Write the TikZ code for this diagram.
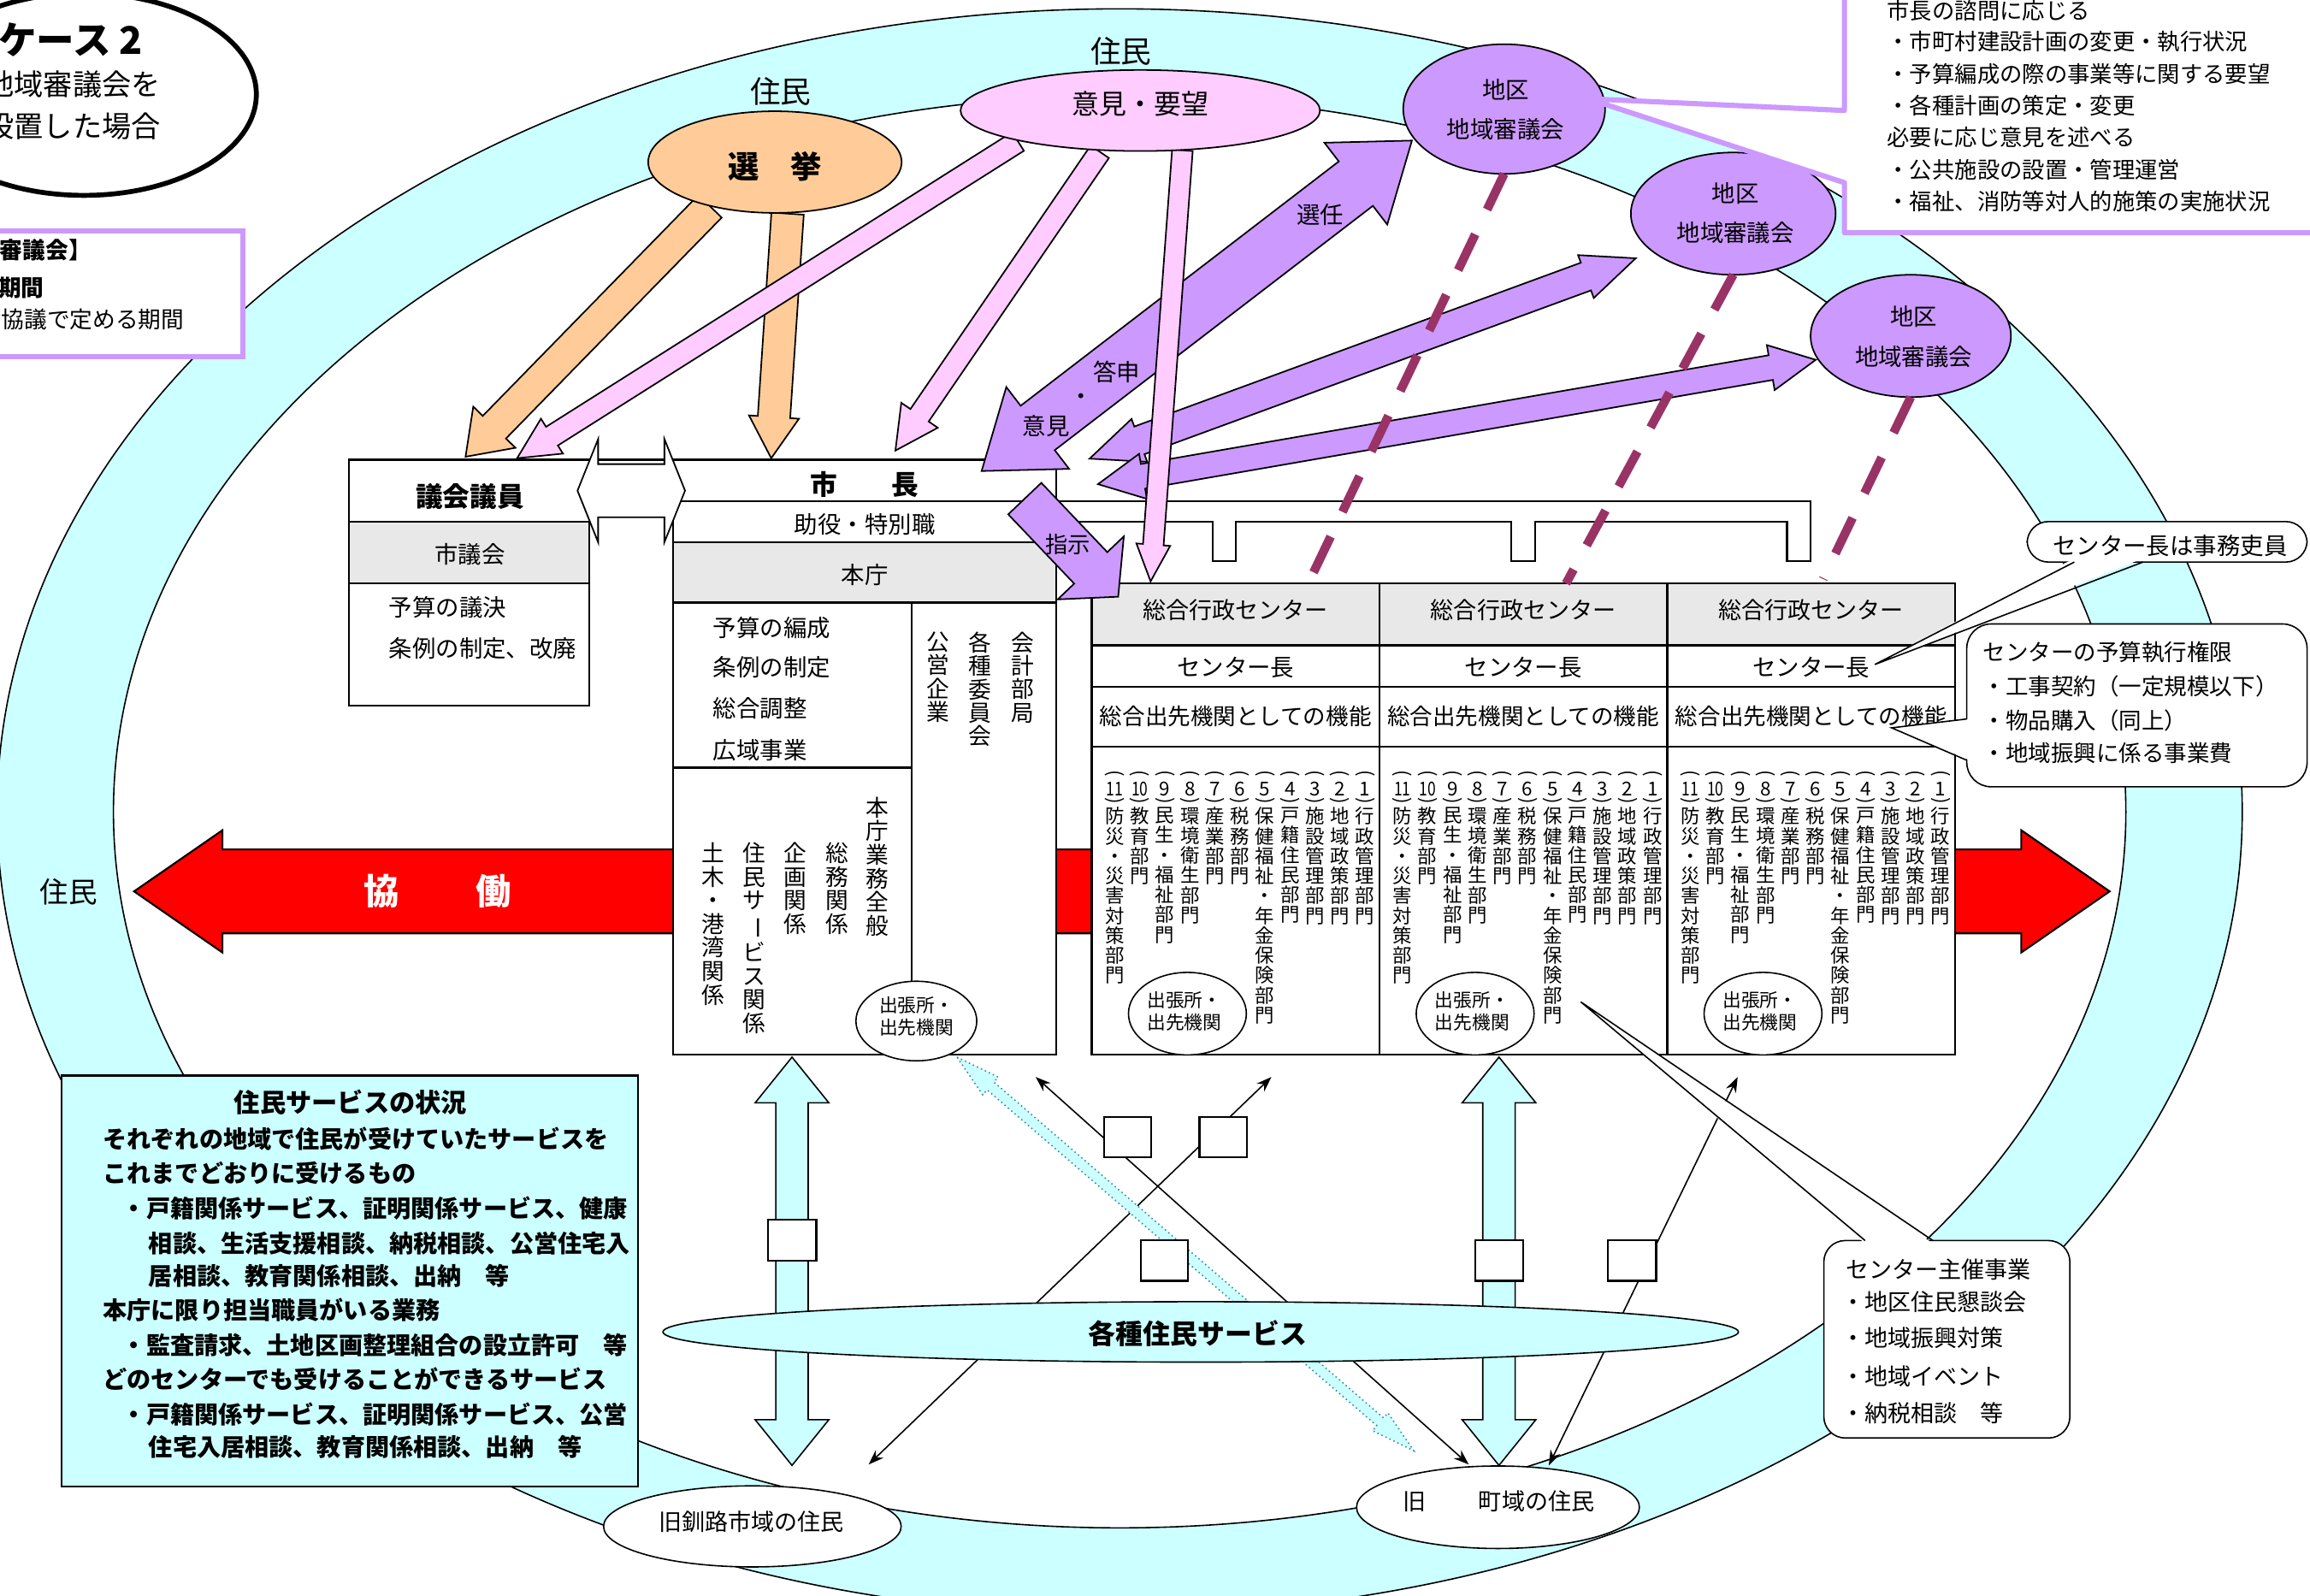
\documentclass[tikz,border=0pt]{standalone}
\usepackage{fontspec}
\setmainfont{Noto Sans CJK JP}
\usepackage{graphicx}
\usetikzlibrary{calc,shapes.geometric,arrows.meta}
\definecolor{ringc}{HTML}{CCFFFF}
\definecolor{orangef}{HTML}{FFCC99}
\definecolor{pinkf}{HTML}{FFCCFF}
\definecolor{purplef}{HTML}{CC99FF}
\definecolor{dashm}{HTML}{993366}
\definecolor{grayf}{HTML}{E8E8E8}
\definecolor{dotc}{HTML}{3F8C9A}
\newcommand\upt{0.48369pt}
\newcommand\fsz[2]{\fontsize{#1pt}{#2pt}\selectfont}
\newcommand\vbar{\rotatebox[origin=c]{-90}{ー}}
\newcommand\parA{\rotatebox[origin=c]{-90}{(}}
\newcommand\parB{\rotatebox[origin=c]{-90}{)}}
\newcommand\blkarrow[6]{%
  \coordinate (tHa) at ($(#3)!#6*\upt!(#2)$);
  \draw[#1] ($(#2)!#4*\upt!90:(#3)$) -- ($(tHa)!#4*\upt!90:(#3)$) -- ($(tHa)!#5*\upt!90:(#3)$) -- (#3) -- ($(tHa)!#5*\upt!-90:(#3)$) -- ($(tHa)!#4*\upt!-90:(#3)$) -- ($(#2)!#4*\upt!-90:(#3)$) -- cycle;}
\newcommand\blkdarrow[6]{%
  \coordinate (tHa) at ($(#3)!#6*\upt!(#2)$);
  \coordinate (tHb) at ($(#2)!#6*\upt!(#3)$);
  \draw[#1] (#2) -- ($(tHb)!#5*\upt!90:(#3)$) -- ($(tHb)!#4*\upt!90:(#3)$) -- ($(tHa)!#4*\upt!90:(#3)$) -- ($(tHa)!#5*\upt!90:(#3)$) -- (#3) -- ($(tHa)!#5*\upt!-90:(#3)$) -- ($(tHa)!#4*\upt!-90:(#3)$) -- ($(tHb)!#4*\upt!-90:(#3)$) -- ($(tHb)!#5*\upt!-90:(#3)$) -- cycle;}
\begin{document}
\begin{tikzpicture}[x=0.017cm,y=-0.017cm,
  every node/.style={inner sep=0pt,outer sep=0pt},
  thinl/.style={line width=0.45pt},
  boxl/.style={draw,line width=0.6pt},
  blk/.style={draw,line width=0.5pt,line join=miter},
  vt/.style={anchor=north,align=center},
  oval/.style={draw,line width=0.5pt,ellipse},
  dashl/.style={draw=dashm,line width=2.9pt,dash pattern=on 13pt off 9pt},
  arrtwo/.style={line width=0.45pt,{Stealth[length=5pt,width=3.6pt]}-{Stealth[length=5pt,width=3.6pt]}}]

\useasboundingbox (0,0) rectangle (1568,1083);
\fill[white] (0,0) rectangle (1568,1083);

% ---- ring of residents
\fill[ringc,even odd rule] (760,551) ellipse [x radius=762,y radius=545] (760,551) ellipse [x radius=683,y radius=486];
\draw[thinl] (760,551) ellipse [x radius=762,y radius=545];
\draw[thinl] (760,551) ellipse [x radius=683,y radius=486];
\node[font=\fsz{10}{12}] (jumin1) at (530,62) {住民};
\node[font=\fsz{10}{12}] (jumin2) at (761,34.5) {住民};
\node[font=\fsz{9.4}{11}] (jumin3) at (46.6,605.6) {住民};

% ---- cooperation arrow
\coordinate (kyoL) at (91,605);
\coordinate (kyoR) at (1432,605);
\blkdarrow{blk,line width=0.6pt,fill=red}{kyoL}{kyoR}{28.5}{41.5}{60}
\node[font=\fsz{11.6}{13}\bfseries,text=white] (kyo1) at (259,605) {協};
\node[font=\fsz{11.6}{13}\bfseries,text=white] (kyo2) at (335,605) {働};

% ---- council box
\draw[boxl,fill=white] (237,312) rectangle (400,479);
\draw[boxl,fill=grayf] (237,354) rectangle (400,396);
\draw[boxl] (400,312) -- (457,312);
\node[font=\fsz{8.9}{10}\bfseries] (giin) at (319,337) {議会議員};
\node[font=\fsz{7.7}{9}] (shigikai) at (319,376) {市議会};
\node[font=\fsz{7.7}{9},anchor=west] (g1) at (264,412) {予算の議決};
\node[font=\fsz{7.7}{9},anchor=west] (g2) at (264,440) {条例の制定、改廃};

% ---- mayor / head office box
\draw[boxl,fill=white] (457,312) rectangle (717,716);
\draw[boxl] (457,340) -- (717,340);
\draw[boxl,fill=grayf] (457,368) rectangle (717,409);
\draw[boxl] (619,409) -- (619,716);
\draw[boxl] (457,521) -- (619,521);
\node[font=\fsz{8.9}{10}\bfseries] (shicho) at (587,328.6) {市　　長};
\node[font=\fsz{7.7}{9}] (joyaku) at (587,356) {助役・特別職};
\node[font=\fsz{7.7}{9}] (honcho) at (587,390) {本庁};
\node[font=\fsz{7.7}{9},anchor=west] (h1) at (484,426) {予算の編成};
\node[font=\fsz{7.7}{9},anchor=west] (h2) at (484,453) {条例の制定};
\node[font=\fsz{7.7}{9},anchor=west] (h3) at (484,481) {総合調整};
\node[font=\fsz{7.7}{9},anchor=west] (h4) at (484,509) {広域事業};
\node[vt,font=\fsz{7.5}{7.64}] (kaikei) at (694,429) {会\\計\\部\\局};
\node[vt,font=\fsz{7.5}{7.64}] (iinkai) at (665,429) {各\\種\\委\\員\\会};
\node[vt,font=\fsz{7.5}{7.64}] (koei) at (637,429) {公\\営\\企\\業};
\node[vt,font=\fsz{7.5}{7.74}] (zenpan) at (595.6,541) {本\\庁\\業\\務\\全\\般};
\node[vt,font=\fsz{7.5}{7.74}] (somu) at (568,572) {総\\務\\関\\係};
\node[vt,font=\fsz{7.5}{7.74}] (kikaku) at (540,572) {企\\画\\関\\係};
\node[vt,font=\fsz{7.5}{7.74}] (jserv) at (512,572) {住\\民\\サ\\\vbar\\ビ\\ス\\関\\係};
\node[vt,font=\fsz{7.5}{7.74}] (doboku) at (484,572) {土\\木\\・\\港\\湾\\関\\係};
\node[oval,fill=white,line width=0.45pt,minimum width=82*\upt,minimum height=54*\upt] (hdem) at (622,693) {};
\node[font=\fsz{6.1}{7.3},align=left] (hdemt) at (622,690) {出張所・\\出先機関};

% ---- bar to centres
\draw[boxl,fill=white] (717,340) -- (1229,340) -- (1229,381) -- (1213,381) -- (1213,354) -- (1042,354) -- (1042,381) -- (1026,381) -- (1026,354) -- (839,354) -- (839,381) -- (823,381) -- (823,354) -- (717,354);

% ---- administrative centres
\draw[boxl,fill=white] (741,396) rectangle (1327,716);
\draw[boxl,fill=grayf] (741,396) rectangle (1327,438);
\draw[boxl] (741,466) -- (1327,466);
\draw[boxl] (741,507) -- (1327,507);
\draw[boxl] (936.3,396) -- (936.3,716);
\draw[boxl] (1131.7,396) -- (1131.7,716);
\foreach \L [count=\c] in {741,936.3,1131.7} {
  \node[font=\fsz{7.6}{9}] (ct\c) at ({\L+97.7},414) {総合行政センター};
  \node[font=\fsz{7.7}{9}] (cc\c) at ({\L+97.7},453) {センター長};
  \node[font=\fsz{7.45}{9}] (cf\c) at ({\L+97.7},486) {総合出先機関としての機能};
  \node[oval,fill=white,line width=0.45pt,minimum width=80*\upt,minimum height=56*\upt] (ce\c) at ({\L+65},688) {};
  \node[font=\fsz{6.1}{7.3},align=left] (cet\c) at ({\L+63},686.5) {出張所・\\出先機関};
  \foreach \k/\t in {1/{行\\政\\管\\理\\部\\門},2/{地\\域\\政\\策\\部\\門},3/{施\\設\\管\\理\\部\\門},4/{戸\\籍\\住\\民\\部\\門},5/{保\\健\\福\\祉\\・\\年\\金\\保\\険\\部\\門},6/{税\\務\\部\\門},7/{産\\業\\部\\門},8/{環\\境\\衛\\生\\部\\門},9/{民\\生\\・\\福\\祉\\部\\門},10/{教\\育\\部\\門},11/{防\\災\\・\\災\\害\\対\\策\\部\\門}} {
    \node[font=\fsz{6.3}{7}] (pa\c-\k) at ({\L+185.5-(\k-1)*16.98},526) {\parA};
    \node[font=\fsz{6.3}{7}] (nm\c-\k) at ({\L+185.5-(\k-1)*16.98},535.5) {\ifnum\k>9 \scalebox{0.78}[1]{\k}\else\k\fi};
    \node[font=\fsz{6.3}{7}] (pb\c-\k) at ({\L+185.5-(\k-1)*16.98},544.5) {\parB};
    \node[vt,font=\fsz{6.3}{6.53}] (cd\c-\k) at ({\L+185.5-(\k-1)*16.98},548) {\t};
  }
}

% ---- white double arrow council <-> mayor
\coordinate (waL) at (392,333);
\coordinate (waR) at (465,333);
\blkdarrow{blk,fill=white}{waL}{waR}{18}{35}{14}

% ---- purple arrows
\coordinate (paA) at (666.3,319.7);
\coordinate (paB) at (958.4,95.4);
\blkdarrow{blk,fill=purplef}{paA}{paB}{19}{35}{48}
\coordinate (pbA) at (739.6,311.3);
\coordinate (pbB) at (1110.3,175.3);
\blkdarrow{blk,fill=purplef}{pbA}{pbB}{10}{15.5}{36}
\coordinate (pcA) at (745.3,328.6);
\coordinate (pcB) at (1232.5,244.2);
\blkdarrow{blk,fill=purplef}{pcA}{pcB}{8.5}{15.5}{31}
\coordinate (sjA) at (695.6,338.4);
\coordinate (sjB) at (759,405);
\blkarrow{blk,fill=purplef}{sjA}{sjB}{15.5}{31}{27}

% ---- orange and pink arrows
\coordinate (o1A) at (482,140);
\coordinate (o1B) at (316,310);
\blkarrow{blk,fill=orangef}{o1A}{o1B}{11}{20}{28}
\coordinate (o2A) at (534.6,145);
\coordinate (o2B) at (523.5,311);
\blkarrow{blk,fill=orangef}{o2A}{o2B}{11}{17}{28}
\coordinate (p1A) at (691,96);
\coordinate (p1B) at (351,311);
\blkarrow{blk,fill=pinkf}{p1A}{p1B}{7.5}{14}{28}
\coordinate (p2A) at (746.5,103);
\coordinate (p2B) at (607.8,305.8);
\blkarrow{blk,fill=pinkf}{p2A}{p2B}{7.5}{15}{29}
\coordinate (p3A) at (802.6,102);
\coordinate (p3B) at (781,394.6);
\blkarrow{blk,fill=pinkf}{p3A}{p3B}{7}{11.5}{25}

% ---- ovals at the top
\node[oval,fill=orangef,minimum width=172*\upt,minimum height=69*\upt] (senkyo) at (526,110) {};
\node[font=\fsz{10.2}{12}\bfseries] (senkyot) at (526,113) {選　挙};
\node[oval,fill=pinkf,minimum width=244*\upt,minimum height=55*\upt] (iken) at (774,75) {};
\node[font=\fsz{8.95}{10}] (ikent) at (774,70.5) {意見・要望};
\node[oval,fill=purplef,minimum width=137*\upt,minimum height=88*\upt] (chiku1) at (1021,74) {};
\node[font=\fsz{7.7}{13},align=center] (chiku1t) at (1022,74.5) {地区\\地域審議会};
\node[oval,fill=purplef,minimum width=139*\upt,minimum height=83*\upt] (chiku2) at (1176.5,145) {};
\node[font=\fsz{7.7}{13},align=center] (chiku2t) at (1178,144.5) {地区\\地域審議会};
\node[oval,fill=purplef,minimum width=136*\upt,minimum height=83*\upt] (chiku3) at (1297,228) {};
\node[font=\fsz{7.7}{13},align=center] (chiku3t) at (1299,228.5) {地区\\地域審議会};

% ---- dashed links council -> centre
\coordinate (m1B) at (888,396);
\coordinate (m2B) at (1063,396);
\coordinate (m3B) at (1237.5,393);
\draw[dashl] (chiku1.south) -- (m1B);
\draw[dashl] (chiku2.south) -- (m2B);
\draw[dashl] (chiku3.south) -- (m3B);

% ---- arrow labels
\node[font=\fsz{7.7}{9}] (lsennin) at (896,146) {選任};
\node[font=\fsz{7.7}{9}] (ltoshin) at (758,252.5) {答申};
\node[font=\fsz{7.7}{9}] (ldot) at (734,271) {・};
\node[font=\fsz{7.7}{9}] (liken) at (710,289) {意見};
\node[font=\fsz{7.4}{9}] (lshiji) at (725,369.6) {指示};

% ---- callout of the regional council
\coordinate (cp1) at (1078,67);
\draw[draw=purplef,line width=1.7pt,fill=white,line join=round] (1252,-10) -- (1252,75) -- (cp1) -- (1252,124) -- (1252,158) -- (1600,158) -- (1600,-10) -- cycle;
\node[font=\fsz{7.4}{9},anchor=west] (q1) at (1281,7) {市長の諮問に応じる};
\node[font=\fsz{7.4}{9},anchor=west] (q2) at (1281,28) {・市町村建設計画の変更・執行状況};
\node[font=\fsz{7.4}{9},anchor=west] (q3) at (1281,50) {・予算編成の際の事業等に関する要望};
\node[font=\fsz{7.4}{9},anchor=west] (q4) at (1281,71.6) {・各種計画の策定・変更};
\node[font=\fsz{7.4}{9},anchor=west] (q5) at (1281,93) {必要に応じ意見を述べる};
\node[font=\fsz{7.4}{9},anchor=west] (q6) at (1281,115) {・公共施設の設置・管理運営};
\node[font=\fsz{7.4}{9},anchor=west] (q7) at (1281,136.5) {・福祉、消防等対人的施策の実施状況};

% ---- callouts at the centres
\draw[thinl,fill=white,rounded corners=7pt] (1376,354) rectangle (1566,381.5);
\coordinate (cq1) at (1272.6,451);
\fill[white] (1408,379) -- (cq1) -- (1454.6,379) -- cycle;
\draw[thinl] (1408,381.5) -- (cq1) -- (1454.6,381.5);
\node[font=\fsz{7.7}{9}] (jimu) at (1473,370.5) {センター長は事務吏員};

\draw[thinl,fill=white,rounded corners=8pt] (1335,423.5) rectangle (1566,534);
\coordinate (cq2) at (1284,494);
\fill[white] (1337,488) -- (cq2) -- (1337,516) -- cycle;
\draw[thinl] (1335,488) -- (cq2) -- (1335,516);
\node[font=\fsz{7.45}{9},anchor=west] (y1) at (1346,442.4) {センターの予算執行権限};
\node[font=\fsz{7.45}{9},anchor=west] (y2) at (1346,466) {・工事契約（一定規模以下）};
\node[font=\fsz{7.45}{9},anchor=west] (y3) at (1346,489) {・物品購入（同上）};
\node[font=\fsz{7.45}{9},anchor=west] (y4) at (1346,511) {・地域振興に係る事業費};

% ---- services at the bottom
\coordinate (l1A) at (703,731);
\coordinate (l1B) at (997,994);
\coordinate (l2A) at (863,731);
\coordinate (l2B) at (589.6,994);
\coordinate (l3A) at (1179.5,731);
\coordinate (l3B) at (1051.3,994.6);
\draw[arrtwo] (l1A) -- (l1B);
\draw[arrtwo] (l2A) -- (l2B);
\draw[arrtwo] (l3A) -- (l3B);
\coordinate (dtA) at (649.6,717.5);
\coordinate (dtB) at (959.6,984.6);
\blkdarrow{draw=dotc,densely dotted,line width=0.45pt,fill=ringc}{dtA}{dtB}{3.5}{8}{30}
\coordinate (clA) at (537.6,717.5);
\coordinate (clB) at (537.6,994.6);
\blkdarrow{blk,line width=0.45pt,fill=ringc}{clA}{clB}{11}{25}{31}
\coordinate (crA) at (1017.5,717.5);
\coordinate (crB) at (1017.5,994.6);
\blkdarrow{blk,line width=0.45pt,fill=ringc}{crA}{crB}{11}{25}{31}
\node[draw,line width=0.6pt,fill=white,minimum width=33*\upt,minimum height=27.5*\upt] (r0) at (537.6,841.7) {};
\node[draw,line width=0.6pt,fill=white,minimum width=32*\upt,minimum height=27.5*\upt] (r1) at (765.5,771.9) {};
\node[draw,line width=0.6pt,fill=white,minimum width=32*\upt,minimum height=27.5*\upt] (r2) at (830.2,771.9) {};
\node[draw,line width=0.6pt,fill=white,minimum width=32*\upt,minimum height=27.5*\upt] (r3) at (790.3,855.6) {};
\node[draw,line width=0.6pt,fill=white,minimum width=32.7*\upt,minimum height=27.5*\upt] (r4) at (1107.8,855.6) {};
\node[draw,line width=0.6pt,fill=white,minimum width=32.7*\upt,minimum height=27.5*\upt] (r5) at (1017.8,855.6) {};
\node[oval,line width=0.45pt,fill=ringc,minimum width=730*\upt,minimum height=41*\upt] (kakushu) at (815,904) {};
\node[font=\fsz{8.95}{10}\bfseries] (kakushut) at (813,905) {各種住民サービス};
\node[oval,line width=0.45pt,fill=white,minimum width=202*\upt,minimum height=55*\upt] (kyuk) at (510.7,1036) {};
\node[font=\fsz{7.6}{9}] (kyukt) at (510,1032.7) {旧釧路市域の住民};
\node[oval,line width=0.45pt,fill=white,minimum width=192*\upt,minimum height=56*\upt] (kyuc) at (1016.8,1023) {};
\node[font=\fsz{7.6}{9}] (kyuct1) at (960,1019) {旧};
\node[font=\fsz{7.6}{9}] (kyuct2) at (1043,1019) {町域の住民};

% ---- centre events callout
\draw[thinl,fill=white,rounded corners=7pt] (1238,842) rectangle (1405,976);
\coordinate (cq3) at (1073,680);
\fill[white] (1266,844) -- (cq3) -- (1312,844) -- cycle;
\draw[thinl] (1266,842) -- (cq3) -- (1312,842);
\node[font=\fsz{7.6}{9},anchor=west] (e0) at (1253,861.6) {センター主催事業};
\node[font=\fsz{7.6}{9},anchor=west] (e1) at (1250,883.6) {・地区住民懇談会};
\node[font=\fsz{7.6}{9},anchor=west] (e2) at (1250,908) {・地域振興対策};
\node[font=\fsz{7.6}{9},anchor=west] (e3) at (1250,934) {・地域イベント};
\node[font=\fsz{7.6}{9},anchor=west] (e4) at (1250,959) {・納税相談　等};

% ---- service status box
\draw[boxl,fill=ringc] (42,730) rectangle (433,1009);
\node[font=\fsz{8.5}{10}\bfseries] (s0) at (238,748) {住民サービスの状況};
\node[font=\fsz{7.9}{9}\bfseries,anchor=west] (s1) at (70,773) {それぞれの地域で住民が受けていたサービスを};
\node[font=\fsz{7.9}{9}\bfseries,anchor=west] (s2) at (70,796) {これまでどおりに受けるもの};
\node[font=\fsz{7.9}{9}\bfseries,anchor=west] (s3) at (83,820) {・戸籍関係サービス、証明関係サービス、健康};
\node[font=\fsz{7.9}{9}\bfseries,anchor=west] (s4) at (101,844) {相談、生活支援相談、納税相談、公営住宅入};
\node[font=\fsz{7.9}{9}\bfseries,anchor=west] (s5) at (101,866) {居相談、教育関係相談、出納　等};
\node[font=\fsz{7.9}{9}\bfseries,anchor=west] (s6) at (70,889) {本庁に限り担当職員がいる業務};
\node[font=\fsz{7.9}{9}\bfseries,anchor=west] (s7) at (83,913) {・監査請求、土地区画整理組合の設立許可　等};
\node[font=\fsz{7.9}{9}\bfseries,anchor=west] (s8) at (70,936) {どのセンターでも受けることができるサービス};
\node[font=\fsz{7.9}{9}\bfseries,anchor=west] (s9) at (83,960) {・戸籍関係サービス、証明関係サービス、公営};
\node[font=\fsz{7.9}{9}\bfseries,anchor=west] (s10) at (101,982) {住宅入居相談、教育関係相談、出納　等};

% ---- title oval and legend
\draw[line width=1.6pt,fill=white] (57,64) ellipse [x radius=117,y radius=68.6];
\node[font=\fsz{12.5}{14}\bfseries,anchor=east] (case) at (97,27) {ケース 2};
\node[font=\fsz{9.6}{11},anchor=east] (case2) at (109,57) {地域審議会を};
\node[font=\fsz{9.6}{11},anchor=east] (case3) at (109,85.6) {設置した場合};
\draw[draw=purplef,line width=1.7pt,fill=white] (-20,157) rectangle (165,242);
\node[font=\fsz{7.5}{9}\bfseries,anchor=east] (lg1) at (62,170) {【地域審議会】};
\node[font=\fsz{7.5}{9}\bfseries,anchor=east] (lg2) at (30,195.5) {設置期間};
\node[font=\fsz{7.5}{9},anchor=east] (lg3) at (125,216.7) {合併協議で定める期間};
\end{tikzpicture}
\end{document}
